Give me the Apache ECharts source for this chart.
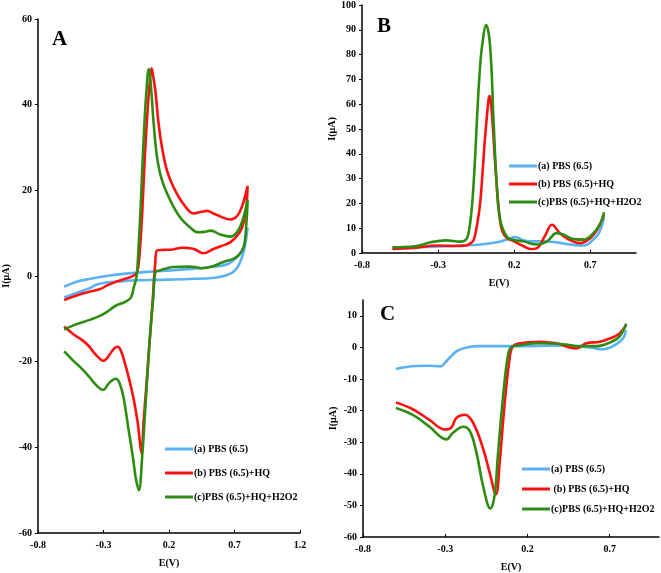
<!DOCTYPE html>
<html>
<head>
<meta charset="utf-8">
<script src="https://cdn.jsdelivr.net/npm/echarts@6/dist/echarts.min.js"></script>
<style>
html,body{margin:0;padding:0;background:#fff;}
#chart{width:661px;height:573px;}
</style>
</head>
<body>
<div id="chart"></div>
<script>
// ---------- data (E in V, I in µA) ----------
const seriesNames = ['(a) PBS (6.5)', '(b) PBS (6.5)+HQ', '(c)PBS (6.5)+HQ+H2O2'];
const seriesNamesC = ['(a) PBS (6.5)', ' (b) PBS (6.5)+HQ', '(c)PBS (6.5)+HQ+H2O2'];
const xTicks = [-0.8, -0.3, 0.2, 0.7, 1.2];

// Panel A : cyclic voltammograms (forward then reverse scan)
const A_blue = [[-0.6,-2.5],[-0.5,-1.3],[-0.41,-0.7],[-0.3,-0.1],[-0.15,0.5],[0.1,1.1],[0.35,1.6],[0.55,2.2],[0.65,2.8],[0.72,4.4],[0.77,6.7],[0.80,11.3],
  [0.775,6.3],[0.74,3.0],[0.70,1.2],[0.65,0.3],[0.55,-0.4],[0.35,-0.7],[0.1,-0.9],[-0.03,-1.0],[-0.15,-1.2],[-0.28,-1.5],[-0.35,-2.0],[-0.41,-2.9],[-0.5,-3.9],[-0.6,-5.0]];
const A_red = [[-0.6,-5.6],[-0.5,-4.5],[-0.41,-3.7],[-0.32,-3.0],[-0.28,-2.3],[-0.2,-1.3],[-0.15,-0.8],[-0.09,-0.2],[-0.05,0.6],[-0.034,2.2],[-0.02,7],[-0.004,15],[0.015,27.5],[0.035,38],[0.052,45],[0.067,48.5],[0.08,46.5],[0.097,42.9],[0.122,35.2],[0.148,29.8],[0.186,24.5],[0.237,20.6],[0.313,16.7],[0.389,14.6],[0.45,15.0],[0.49,15.2],[0.54,14.6],[0.6,13.8],[0.67,13.2],[0.72,14],[0.76,16.5],[0.80,21],
  [0.79,16],[0.77,12.5],[0.74,10.2],[0.67,7.9],[0.6,7],[0.54,6.3],[0.46,5.3],[0.40,6.2],[0.35,6.5],[0.30,6.6],[0.23,6.2],[0.15,6.1],[0.11,6.0],[0.095,3.0],[0.075,-6],[0.06,-12],[0.044,-18.7],[0.029,-25],[0.006,-34],[-0.01,-41.4],[-0.025,-38],[-0.04,-34],[-0.07,-28.7],[-0.11,-23.4],[-0.14,-20.0],[-0.165,-17.6],[-0.19,-16.5],[-0.215,-16.8],[-0.25,-18.2],[-0.28,-19.4],[-0.3,-19.8],[-0.325,-19.4],[-0.37,-18],[-0.41,-16.4],[-0.47,-14.8],[-0.53,-13.6],[-0.6,-11.8]];
const A_green = [[-0.6,-12.5],[-0.51,-11.3],[-0.41,-10.3],[-0.34,-9.5],[-0.27,-8.3],[-0.21,-7],[-0.13,-6],[-0.09,-5.0],[-0.07,-2.8],[-0.05,-0.5],[-0.042,1.5],[-0.03,8],[-0.015,17],[-0.004,25],[0.01,34],[0.025,42],[0.046,48.3],[0.059,45.5],[0.084,35.2],[0.11,27.5],[0.148,22.2],[0.211,17.6],[0.287,13.6],[0.363,11.3],[0.42,10.2],[0.47,10.3],[0.52,10.6],[0.59,9.7],[0.67,9.2],[0.72,10.3],[0.75,12],[0.78,15],[0.80,17.8],
  [0.79,12],[0.77,6.7],[0.73,4.8],[0.69,4],[0.61,3.2],[0.53,2.2],[0.455,1.8],[0.40,2.1],[0.35,2.2],[0.23,2.1],[0.17,1.7],[0.13,1.3],[0.097,0.9],[0.08,-5],[0.06,-12],[0.044,-18.7],[0.021,-30],[-0.004,-41.8],[-0.03,-50],[-0.045,-48.5],[-0.055,-47],[-0.078,-41.8],[-0.11,-35.6],[-0.145,-28.7],[-0.175,-25.2],[-0.207,-24],[-0.24,-24.5],[-0.27,-25.5],[-0.30,-26.6],[-0.33,-26.2],[-0.37,-25],[-0.41,-23.5],[-0.47,-21.5],[-0.53,-19.8],[-0.6,-17.6]];

// Panel B : oxidation DPV
const B_blue = [[-0.6,2.0],[-0.45,2.3],[-0.3,2.6],[-0.15,3.0],[-0.02,3.4],[0.086,4.3],[0.15,5.4],[0.207,6.4],[0.26,5.1],[0.305,4.7],[0.39,4.7],[0.48,4.3],[0.57,3.4],[0.657,3.0],[0.70,4.3],[0.756,8],[0.79,14.5]];
const B_red = [[-0.6,1.6],[-0.46,2.0],[-0.31,3.0],[-0.18,2.8],[-0.12,3.0],[-0.09,3.8],[-0.067,5.2],[-0.045,11],[-0.024,20],[-0.005,35],[0.009,47],[0.031,61.7],[0.038,63.3],[0.053,56.4],[0.075,36],[0.097,18.7],[0.119,9.3],[0.152,6],[0.196,4.8],[0.22,4],[0.26,2.8],[0.305,1.6],[0.35,2.0],[0.40,6.7],[0.448,11.4],[0.50,8],[0.57,5.1],[0.635,4],[0.70,6],[0.745,9.4],[0.79,15.4]];
const B_green = [[-0.6,2.3],[-0.45,2.7],[-0.35,4.3],[-0.25,5.1],[-0.155,4.6],[-0.12,5.2],[-0.1,8],[-0.078,18.7],[-0.06,35],[-0.045,53.6],[-0.03,70],[-0.012,83],[0.016,91.9],[0.042,83],[0.064,53.6],[0.086,26.7],[0.108,13.3],[0.152,6.6],[0.2,5.2],[0.26,4.7],[0.35,3.4],[0.415,4.7],[0.48,8],[0.525,7.4],[0.59,5.6],[0.657,5.4],[0.72,8],[0.767,12],[0.79,16.4]];

// Panel C : reduction DPV
const C_blue = [[-0.6,-6.8],[-0.48,-5.9],[-0.4,-5.8],[-0.33,-6.0],[-0.29,-4.2],[-0.23,-1.2],[-0.17,0],[-0.09,0.4],[0.21,0.4],[0.42,0.6],[0.58,0],[0.66,-0.6],[0.72,0.4],[0.78,2.8],[0.80,5.4]];
const C_red = [[-0.6,-17.4],[-0.5,-19.5],[-0.4,-22.8],[-0.3,-26],[-0.263,-25.4],[-0.232,-22.3],[-0.18,-21.3],[-0.13,-23.9],[-0.07,-32],[-0.03,-39.6],[0.008,-46.5],[0.031,-36.4],[0.06,-18.6],[0.09,-4],[0.11,0.2],[0.153,1.3],[0.274,1.8],[0.376,1.3],[0.457,0],[0.497,-0.3],[0.558,1.3],[0.64,1.8],[0.70,2.8],[0.76,4.4],[0.80,7]];
const C_green = [[-0.6,-19.2],[-0.5,-21.3],[-0.4,-24.9],[-0.293,-29.1],[-0.253,-27],[-0.19,-25.1],[-0.15,-26.5],[-0.11,-33.3],[-0.07,-43.8],[-0.025,-51],[0.0,-46.9],[0.02,-34.3],[0.05,-16.5],[0.08,-2.9],[0.10,0],[0.153,0.7],[0.274,1.3],[0.416,1],[0.518,0.4],[0.62,0.4],[0.70,1.5],[0.76,3.4],[0.80,7.5]];

// ---------- rendering ----------
const OFF = 0.8; // axis starts at -0.8; shift so ticks fall on -0.8, -0.3, 0.2 ...
const shift = arr => arr.map(p => [+(p[0] + OFF).toFixed(4), p[1]]);
const colors = ['#5ab2f2', '#ff1010', '#2f8c12'];
const FONT = 'Liberation Serif';
const FS = 10;
const labelStyle = {color: '#000', fontFamily: FONT, fontWeight: 'bold', fontSize: FS};

function xAxisFor(gi, maxE) {
  return {
    type: 'value', gridIndex: gi, min: 0, max: +(maxE + OFF).toFixed(2), interval: 0.5,
    name: 'E(V)', nameLocation: 'middle', nameGap: 25,
    nameTextStyle: {color: '#000', fontFamily: FONT, fontWeight: 'bold', fontSize: FS},
    axisLine: {onZero: false, lineStyle: {color: '#000', width: 1.5}},
    axisTick: {show: true, inside: true, length: 3, lineStyle: {color: '#000'}},
    axisLabel: Object.assign({margin: 7, showMaxLabel: maxE === 1.2,
      formatter: v => { const e = Math.round((v - OFF) * 10) / 10; return xTicks.includes(e) ? e.toFixed(1) : ''; }}, labelStyle),
    splitLine: {show: false}
  };
}
function yAxisFor(gi, min, max, interval, gap) {
  return {
    type: 'value', gridIndex: gi, min, max, interval,
    name: 'I(μA)', nameLocation: 'middle', nameGap: gap, nameRotate: 90,
    nameTextStyle: {color: '#000', fontFamily: FONT, fontWeight: 'bold', fontSize: FS},
    axisLine: {show: true, lineStyle: {color: '#000', width: 1.5}},
    axisTick: {show: true, inside: false, length: 3, lineStyle: {color: '#000'}},
    axisLabel: Object.assign({margin: 6, showMaxLabel: (max % interval === 0)}, labelStyle),
    splitLine: {show: false}
  };
}
function line(name, data, gi, ci) {
  return {
    type: 'line', name, xAxisIndex: gi, yAxisIndex: gi, data: shift(data),
    showSymbol: false, symbol: 'none', smooth: 0.4, silent: true,
    lineStyle: {color: colors[ci], width: 2.6}, itemStyle: {color: colors[ci]}, z: 3 + ci
  };
}
function legendFor(left, top, gap, names) {
  return {
    left, top, orient: 'vertical', itemGap: gap, itemWidth: 28, itemHeight: 3, icon: 'rect',
    selectedMode: false, data: names,
    textStyle: {color: '#000', fontFamily: FONT, fontWeight: 'bold', fontSize: FS, padding: [0,0,0,-4]}
  };
}

const chart = echarts.init(document.getElementById('chart'), null, {renderer: 'canvas'});
chart.setOption({
  animation: false,
  backgroundColor: '#fff',
  grid: [
    {left: 37, top: 19, width: 263, height: 519},
    {left: 362, top: 5, width: 274, height: 248},
    {left: 363, top: 300, width: 296, height: 238}
  ],
  xAxis: [xAxisFor(0, 1.2), xAxisFor(1, 1.0), xAxisFor(2, 1.0)],
  yAxis: [yAxisFor(0, -60, 60, 20, 27), yAxisFor(1, 0, 100, 10, 25), yAxisFor(2, -60, 15, 10, 25)],
  legend: [
    legendFor(160, 439, 14, seriesNames),
    legendFor(504, 156, 8, seriesNames),
    legendFor(517, 459, 10, seriesNamesC)
  ],
  series: [
    line(seriesNames[0], A_blue, 0, 0), line(seriesNames[1], A_red, 0, 1), line(seriesNames[2], A_green, 0, 2),
    line(seriesNames[0], B_blue, 1, 0), line(seriesNames[1], B_red, 1, 1), line(seriesNames[2], B_green, 1, 2),
    line(seriesNamesC[0], C_blue, 2, 0), line(seriesNamesC[1], C_red, 2, 1), line(seriesNamesC[2], C_green, 2, 2)
  ],
  graphic: [
    {type: 'text', left: 52, top: 29, style: {text: 'A', fill: '#000', font: 'bold 21px "Liberation Serif"'}},
    {type: 'text', left: 377, top: 16, style: {text: 'B', fill: '#000', font: 'bold 21px "Liberation Serif"'}},
    {type: 'text', left: 380, top: 304, style: {text: 'C', fill: '#000', font: 'bold 21px "Liberation Serif"'}}
  ]
});
</script>
</body>
</html>
